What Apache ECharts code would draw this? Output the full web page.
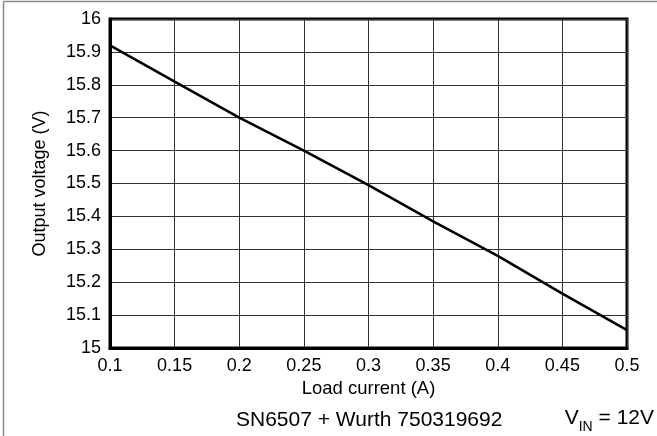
<!DOCTYPE html>
<html>
<head>
<meta charset="utf-8">
<script src="https://cdn.jsdelivr.net/npm/echarts@6/dist/echarts.min.js"></script>
<style>
  html, body { margin: 0; padding: 0; background: #fff; }
  #chart { width: 657px; height: 436px; }
</style>
</head>
<body>
<div id="chart"></div>
<script>
// Load current (A) and measured output voltage (V)
const loadCurrent = [0.1, 0.15, 0.2, 0.25, 0.3, 0.35, 0.4, 0.45, 0.5];
const outputVoltage = [15.92, 15.81, 15.70, 15.60, 15.495, 15.385, 15.28, 15.165, 15.054];

const xTickLabels = ['0.1', '0.15', '0.2', '0.25', '0.3', '0.35', '0.4', '0.45', '0.5'];
const yTickLabels = ['15', '15.1', '15.2', '15.3', '15.4', '15.5', '15.6', '15.7', '15.8', '15.9', '16'];

const FONT = '"Liberation Sans", Arial, sans-serif';

const chart = echarts.init(document.getElementById('chart'), null, { renderer: 'canvas' });

const points = loadCurrent.map((x, i) => [x, outputVoltage[i]]);

chart.setOption({
  animation: false,
  backgroundColor: '#fff',
  textStyle: { fontFamily: FONT, color: '#000' },
  grid: {
    left: 110, right: 30, top: 19, bottom: 88,
    show: true, borderColor: '#000', borderWidth: 3, backgroundColor: 'transparent'
  },
  xAxis: {
    type: 'value',
    min: 0.1, max: 0.5, interval: 0.05,
    name: 'Load current (A)',
    nameLocation: 'middle',
    nameGap: 39,
    nameTextStyle: { fontFamily: FONT, fontSize: 18.5, color: '#000', verticalAlign: 'middle' },
    axisLine: { show: true, lineStyle: { color: '#000', width: 3 } },
    axisTick: { show: false },
    axisLabel: {
      fontFamily: FONT, fontSize: 18, color: '#000', margin: 9,
      formatter: (v) => {
        const i = Math.round((v - loadCurrent[0]) / 0.05);
        return xTickLabels[i] !== undefined ? xTickLabels[i] : '';
      }
    },
    splitLine: { show: true, lineStyle: { color: '#333', width: 1 } }
  },
  yAxis: {
    type: 'value',
    min: 15, max: 16, interval: 0.1,
    name: 'Output voltage (V)',
    nameLocation: 'middle',
    nameGap: 70,
    nameRotate: 90,
    nameTextStyle: { fontFamily: FONT, fontSize: 18, color: '#000', verticalAlign: 'middle' },
    axisLine: { show: true, lineStyle: { color: '#000', width: 3 } },
    axisTick: { show: false },
    axisLabel: {
      fontFamily: FONT, fontSize: 18, color: '#000', margin: 9,
      formatter: (v) => {
        const i = Math.round((v - 15) / 0.1);
        return yTickLabels[i] !== undefined ? yTickLabels[i] : '';
      }
    },
    splitLine: { show: true, lineStyle: { color: '#333', width: 1 } }
  },
  series: [{
    type: 'line',
    data: points,
    showSymbol: false,
    symbol: 'none',
    lineStyle: { color: '#000', width: 2.6 },
    z: 5
  }],
  graphic: [
    // thin frame along the top and left edges
    { type: 'line', shape: { x1: 3.5, y1: 1.5, x2: 657, y2: 1.5 }, style: { stroke: '#888', lineWidth: 1.5 } },
    { type: 'line', shape: { x1: 3.5, y1: 1.5, x2: 3.5, y2: 436 }, style: { stroke: '#888', lineWidth: 1.5 } },
    {
      type: 'text', left: 236, top: 410,
      style: { text: 'SN6507 + Wurth 750319692', font: '21px "Liberation Sans", Arial, sans-serif', fill: '#000' }
    },
    {
      type: 'text', right: 3, top: 408,
      style: {
        text: '{a|V}{s|IN}{a| = 12V}',
        rich: {
          a: { fontFamily: FONT, fontSize: 21, fill: '#000', verticalAlign: 'bottom' },
          s: { fontFamily: FONT, fontSize: 14, fill: '#000', verticalAlign: 'bottom', padding: [0, 0, -5, 0] }
        }
      }
    }
  ]
});
</script>
</body>
</html>
